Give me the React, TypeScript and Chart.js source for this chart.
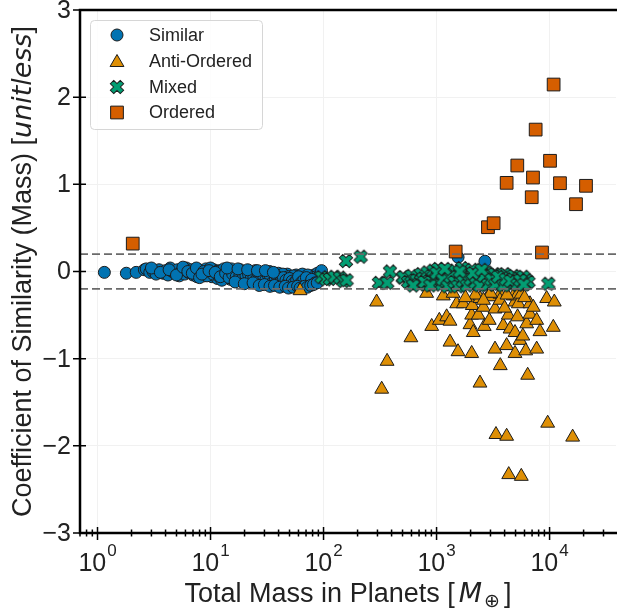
import React, { useEffect, useRef } from 'react';
import { Chart, registerables } from 'chart.js';

Chart.register(...registerables);

// ---- axis settings ----
const X_MIN = 0.7;
const X_MAX = 38700;
const Y_MIN = -3;
const Y_MAX = 3;
const Y_TICKS = [-3, -2, -1, 0, 1, 2, 3];
const X_DECADES = [0, 1, 2, 3, 4];
const THRESHOLDS = [0.2, -0.2];
const SERIES_NAMES = ['Similar', 'Anti-Ordered', 'Mixed', 'Ordered'];
const COLORS = ['#0173B2', '#DE8F05', '#029E73', '#D55E00'];

// ---- data: [total mass, coefficient] ----
const SIMILAR: [number, number][] = [
  [1.15, -0.01], [1.8, -0.02], [2.2, -0.01], [2.6, 0.02], [2.7, 0.03], [2.9, -0.01], [3.1, 0.0], [3.3, -0.03],
  [3.5, 0.02], [3.8, -0.02], [4.0, 0.01], [4.2, -0.04], [4.4, 0.04], [4.6, 0.0], [4.9, -0.02], [5.1, 0.02],
  [5.3, -0.05], [5.6, 0.01], [5.9, -0.03], [6.1, 0.04], [6.4, -0.01], [6.7, 0.02], [7.0, -0.04], [7.3, 0.0],
  [7.6, -0.06], [7.9, 0.02], [8.2, -0.02], [8.5, 0.01], [8.8, -0.05], [9.1, 0.03], [9.5, -0.03], [9.9, 0.0],
  [10.3, -0.06], [10.7, 0.02], [11.1, -0.02], [11.5, -0.08], [12.0, 0.01], [12.4, -0.04], [12.9, -0.01], [13.4, -0.07],
  [13.9, 0.02], [14.4, -0.03], [15.0, -0.09], [15.5, 0.0], [16.1, -0.05], [16.7, -0.02], [17.3, -0.1], [18.0, 0.01],
  [18.6, -0.06], [19.3, -0.03], [20.0, -0.11], [20.8, 0.0], [21.5, -0.07], [22.3, -0.02], [23.1, -0.09], [24.0, -0.04],
  [24.9, 0.01], [25.8, -0.12], [26.8, -0.05], [27.8, -0.01], [28.8, -0.08], [29.9, -0.03], [31.0, -0.13], [32.1, -0.06],
  [33.3, 0.0], [34.5, -0.1], [35.8, -0.04], [37.1, -0.14], [38.5, -0.07], [39.9, -0.02], [41.4, -0.11], [42.9, -0.05],
  [44.5, -0.15], [46.1, -0.08], [47.8, -0.03], [49.6, -0.12], [51.4, -0.06], [53.3, -0.16], [55.3, -0.09], [57.3, -0.04],
  [59.4, -0.13], [61.6, -0.07], [63.9, -0.11], [66.2, -0.05], [68.7, -0.14], [71.2, -0.08], [73.8, -0.12], [76.5, -0.06],
  [79.3, -0.1], [82.2, -0.04], [85.2, -0.08], [88.4, -0.02],
  [3.0, 0.04], [3.6, -0.01], [4.3, 0.02], [5.0, -0.04], [5.7, 0.05], [6.3, 0.0], [6.9, -0.02], [7.5, 0.04],
  [8.0, -0.07], [8.7, 0.0], [9.3, -0.05], [10.0, 0.04], [10.5, -0.03], [11.3, 0.0], [11.8, -0.05], [12.6, -0.1],
  [13.1, 0.03], [13.7, -0.04], [14.2, -0.01], [14.8, -0.06], [15.3, 0.03], [15.8, -0.08], [16.4, -0.01], [17.0, -0.04],
  [17.7, -0.07], [18.3, 0.02], [19.0, -0.09], [19.7, -0.04], [20.4, -0.01], [21.1, -0.06], [21.9, -0.12], [22.7, -0.03],
  [23.5, -0.06], [24.4, -0.1], [25.3, -0.03], [26.3, -0.08], [27.3, -0.13], [28.3, -0.04], [29.3, -0.1], [30.4, -0.07],
  [31.5, -0.02], [32.7, -0.09], [33.9, -0.14], [35.1, -0.07], [36.4, -0.11], [37.8, -0.04], [39.2, -0.09], [40.6, -0.15],
  [42.1, -0.08], [43.7, -0.03], [45.3, -0.12], [47.0, -0.16], [48.7, -0.06], [50.5, -0.1], [52.3, -0.14], [54.3, -0.05],
  [56.3, -0.12], [58.4, -0.08], [60.5, -0.15], [62.7, -0.1], [65.0, -0.03], [67.4, -0.09], [69.9, -0.12], [72.5, -0.04],
  [75.1, -0.1], [77.9, -0.13], [80.7, -0.07], [83.7, -0.11], [86.8, -0.06], [90.0, -0.09], [92.0, -0.05], [96.0, 0.01],
  [8.4, -0.03], [9.7, 0.01], [11.0, -0.01], [12.2, -0.06], [13.6, -0.02], [14.6, -0.07], [15.7, -0.03], [16.9, -0.06],
  [18.2, -0.04], [19.5, -0.07], [20.6, -0.05], [21.7, -0.03], [22.9, -0.08], [24.2, -0.06], [25.5, -0.09], [26.6, -0.02],
  [28.0, -0.06], [29.5, -0.05], [30.8, -0.1], [32.4, -0.04], [34.0, -0.07], [35.6, -0.12], [37.4, -0.09], [39.0, -0.06],
  [40.9, -0.13], [42.6, -0.1], [44.2, -0.07], [46.5, -0.1], [48.3, -0.13], [50.1, -0.08], [52.8, -0.11], [55.0, -0.13],
  [57.8, -0.1], [60.1, -0.06], [63.2, -0.13], [66.8, -0.1], [70.5, -0.07], [74.6, -0.15], [78.6, -0.09], [84.5, -0.13],
  [16.5, -0.12], [19.9, -0.14], [23.8, -0.13], [27.0, -0.16], [30.0, -0.15], [33.6, -0.17], [36.8, -0.16], [41.0, -0.18],
  [45.8, -0.17], [49.0, -0.19], [53.9, -0.18], [58.9, -0.17], [62.0, -0.19], [67.9, -0.17], [72.0, -0.18], [77.0, -0.16],
  [81.5, -0.15], [88.0, -0.13], [14.0, 0.04], [17.5, 0.03], [21.3, 0.02], [26.0, 0.01], [30.6, 0.01], [36.0, -0.01],
  [1550, 0.164], [2680, 0.118],
];

const ANTI_ORDERED: [number, number][] = [
  [62, -0.22], [295, -0.35], [365, -1.03], [327, -1.35], [593, -0.76], [817, -0.25], [906, -0.63], [1058, -0.56],
  [1147, -0.28], [1228, -0.52], [1315, -0.57], [1315, -0.81], [1506, -0.37], [1548, -0.92], [1722, -0.37], [1976, -0.61],
  [2045, -0.94], [2045, -0.5], [2071, -0.39], [2113, -0.7], [2340, -0.5], [2422, -0.31], [2422, -1.28], [2594, -0.41],
  [2642, -0.63], [2870, -0.28], [2925, -0.56], [2972, -0.29], [3290, -0.43], [3290, -0.89], [3355, -1.87], [3640, -0.26],
  [3640, -0.33], [3663, -1.08], [3890, -0.62], [4170, -0.85], [4170, -1.89], [4313, -0.5], [4350, -2.33], [4470, -0.66],
  [4776, -0.28], [4944, -0.35], [4944, -0.7], [4944, -0.94], [5120, -0.28], [5210, -0.52], [5290, -0.37], [5470, -0.79],
  [5620, -2.35], [5800, -0.74], [6150, -0.91], [6270, -0.6], [6400, -1.19], [6710, -0.37], [6710, -0.49], [7180, -0.41],
  [7690, -0.56], [7690, -0.89], [8220, -0.69], [9420, -0.31], [9620, -1.74], [10790, -0.64], [11010, -0.35], [16000, -1.9],
  [1400, -0.25], [2200, -0.27], [3000, -0.25], [4200, -0.27], [5600, -0.26], [2600, -0.33], [1800, -0.3], [4000, -0.42],
  [6000, -0.3],
];

const MIXED: [number, number][] = [
  [96, -0.065], [105, -0.09], [114, -0.085], [125, -0.06], [140, -0.07], [150, -0.11], [160, -0.1], [158, 0.12],
  [213, 0.17], [309, -0.13], [366, -0.13], [387, 0.0], [502, -0.07], [508, -0.065],
  [560, -0.12], [600, -0.05], [640, -0.1], [667, -0.1], [700, -0.14], [730, -0.03], [760, -0.08], [800, -0.15],
  [830, -0.01], [860, -0.11], [900, -0.05], [935, 0.01], [950, -0.13], [990, -0.08], [1030, 0.03], [1072, -0.085],
  [1100, -0.15], [1150, -0.04], [1200, -0.11], [1260, 0.0], [1300, -0.07], [1350, -0.14], [1400, -0.03], [1455, 0.01],
  [1500, -0.1], [1560, -0.05], [1620, -0.14], [1680, 0.04], [1750, -0.08], [1820, -0.02], [1900, -0.12], [1980, -0.06],
  [2060, 0.02], [2150, -0.1], [2240, -0.04], [2330, -0.14], [2430, -0.07], [2530, -0.01], [2640, -0.11], [2773, -0.01],
  [2900, -0.07], [2970, -0.045], [3100, -0.12], [3250, -0.03], [3400, -0.09], [3550, -0.14], [3650, -0.05], [3800, -0.1],
  [4000, -0.03], [4200, -0.12], [4400, -0.07], [4600, -0.15], [4800, -0.05], [5050, -0.11], [5300, -0.08], [5600, -0.13],
  [5850, -0.06], [6070, -0.14], [6270, -0.1], [6500, -0.12], [9750, -0.14],
  [620, -0.16], [780, -0.12], [880, -0.16], [1000, -0.02], [1130, -0.09], [1250, -0.17], [1330, -0.06], [1440, -0.12],
  [1540, -0.17], [1700, -0.11], [1850, -0.16], [2000, -0.09], [2200, -0.13], [2400, -0.16], [2600, -0.05], [2850, -0.15],
  [3050, -0.09], [3300, -0.15], [3500, -0.06], [3900, -0.16], [4100, -0.09], [4500, -0.11], [5200, -0.15], [5500, -0.1],
  [5900, -0.15], [1180, 0.03], [1600, 0.0], [2100, -0.02], [2500, 0.02],
];

const ORDERED: [number, number][] = [
  [2.05, 0.32], [1476, 0.229], [2850, 0.508], [3200, 0.554], [4170, 1.017], [5180, 1.216], [6950, 0.852], [7130, 1.078],
  [7530, 1.628], [8570, 0.218], [10090, 1.27], [10860, 2.145], [12360, 1.013], [17130, 0.772], [21000, 0.983],
];

const FONT = "'Liberation Sans', Arial, sans-serif";
const MATH_FONT = "'DejaVu Sans', sans-serif";
const TEXT_COLOR = '#222';
const EDGE = '#1c1c1c';

function makeXMarker(fill: string, stroke: string) {
  const c = document.createElement('canvas');
  c.width = 18;
  c.height = 18;
  const g = c.getContext('2d')!;
  const L = 7.0;
  const a = 2.4;
  const pts = [[a, L], [a, a], [L, a], [L, -a], [a, -a], [a, -L], [-a, -L], [-a, -a], [-L, -a], [-L, a], [-a, a], [-a, L]];
  g.translate(9, 9);
  g.rotate(Math.PI / 4);
  g.beginPath();
  pts.forEach(([px, py], i) => (i ? g.lineTo(px, py) : g.moveTo(px, py)));
  g.closePath();
  g.fillStyle = fill;
  g.fill();
  g.lineWidth = 1;
  g.strokeStyle = stroke;
  g.stroke();
  return c;
}

function toPoints(arr: [number, number][]) {
  return arr.map(([x, y]) => ({ x, y }));
}

const R_CIRCLE = 6;
const R_TRI = 8;
const R_RECT = 9;

export default function App() {
  const ref = useRef<HTMLCanvasElement | null>(null);

  useEffect(() => {
    const canvas = ref.current;
    if (!canvas) return;
    const xMarker = makeXMarker(COLORS[2], EDGE);

    const drawMarker = (ctx: CanvasRenderingContext2D, kind: number, cx: number, cy: number) => {
      ctx.save();
      ctx.lineWidth = 1;
      ctx.strokeStyle = EDGE;
      ctx.fillStyle = COLORS[kind];
      if (kind === 0) {
        ctx.beginPath();
        ctx.arc(cx, cy, R_CIRCLE, 0, Math.PI * 2);
        ctx.fill();
        ctx.stroke();
      } else if (kind === 1) {
        const r = R_TRI;
        ctx.beginPath();
        ctx.moveTo(cx, cy - r);
        ctx.lineTo(cx + Math.sin((2 * Math.PI) / 3) * r, cy - Math.cos((2 * Math.PI) / 3) * r);
        ctx.lineTo(cx + Math.sin((4 * Math.PI) / 3) * r, cy - Math.cos((4 * Math.PI) / 3) * r);
        ctx.closePath();
        ctx.fill();
        ctx.stroke();
      } else if (kind === 2) {
        ctx.drawImage(xMarker, cx - 9, cy - 9);
      } else {
        const s = Math.SQRT1_2 * R_RECT;
        ctx.beginPath();
        ctx.rect(cx - s, cy - s, 2 * s, 2 * s);
        ctx.fill();
        ctx.stroke();
      }
      ctx.restore();
    };

    const decorations = {
      id: 'decorations',
      afterDraw(chart: any) {
        const { ctx, chartArea: a, scales } = chart;
        const xs = scales.x;
        const ys = scales.y;
        ctx.save();
        // spines
        ctx.strokeStyle = '#000';
        ctx.lineWidth = 2.5;
        ctx.beginPath();
        ctx.moveTo(a.left, a.top);
        ctx.lineTo(a.left, a.bottom);
        ctx.moveTo(a.left - 1.25, a.bottom);
        ctx.lineTo(chart.width, a.bottom);
        ctx.moveTo(a.left - 1.25, a.top);
        ctx.lineTo(chart.width, a.top);
        ctx.stroke();

        // x ticks
        ctx.lineWidth = 1.5;
        ctx.beginPath();
        for (let e = -1; e <= 4; e++) {
          for (let m = 1; m <= 9; m++) {
            const v = m * Math.pow(10, e);
            if (v < X_MIN || v > X_MAX) continue;
            const px = xs.getPixelForValue(v);
            if (m === 1) {
              ctx.moveTo(px, a.bottom - 6);
              ctx.lineTo(px, a.bottom + 7);
            } else {
              ctx.moveTo(px, a.bottom - 3.5);
              ctx.lineTo(px, a.bottom + 3.5);
            }
          }
        }
        // y ticks
        Y_TICKS.forEach((v) => {
          const py = ys.getPixelForValue(v);
          ctx.moveTo(a.left - 7, py);
          ctx.lineTo(a.left + 6, py);
        });
        ctx.stroke();

        // y tick labels
        ctx.fillStyle = TEXT_COLOR;
        ctx.font = `25px ${FONT}`;
        ctx.textAlign = 'right';
        ctx.textBaseline = 'middle';
        Y_TICKS.forEach((v) => {
          const py = ys.getPixelForValue(v);
          ctx.fillText(v < 0 ? '\u2212' + Math.abs(v) : String(v), a.left - 9, py + 1);
        });

        // x tick labels 10^n
        ctx.textBaseline = 'alphabetic';
        ctx.textAlign = 'left';
        X_DECADES.forEach((d) => {
          const px = xs.getPixelForValue(Math.pow(10, d));
          ctx.font = `25px ${FONT}`;
          const w1 = ctx.measureText('10').width;
          ctx.font = `17px ${FONT}`;
          const w2 = ctx.measureText(String(d)).width;
          const x0 = px - (w1 + w2 + 1) / 2;
          ctx.font = `25px ${FONT}`;
          ctx.fillText('10', x0, 571);
          ctx.font = `17px ${FONT}`;
          ctx.fillText(String(d), x0 + w1 + 1, 556);
        });

        // x axis title
        const xParts = [
          { t: 'Total Mass in Planets [', f: `27px ${FONT}`, dy: 0, pad: 0 },
          { t: 'M', f: `italic 27px ${MATH_FONT}`, dy: 0, pad: 4 },
          { t: '\u2295', f: `19px ${MATH_FONT}`, dy: 5, pad: 2 },
          { t: ']', f: `27px ${FONT}`, dy: 0, pad: 4 },
        ];
        let total = 0;
        xParts.forEach((p) => {
          ctx.font = p.f;
          total += ctx.measureText(p.t).width + p.pad;
        });
        let cx = (a.left + a.right) / 2 - total / 2;
        xParts.forEach((p) => {
          ctx.font = p.f;
          cx += p.pad;
          ctx.fillText(p.t, cx, 602 + p.dy);
          cx += ctx.measureText(p.t).width;
        });

        // y axis title (rotated)
        ctx.save();
        ctx.translate(31, (a.top + a.bottom) / 2);
        ctx.rotate(-Math.PI / 2);
        const yParts = [
          { t: 'Coefficient of Similarity (Mass) [', f: `27px ${FONT}` },
          { t: 'unitless', f: `italic 27px ${MATH_FONT}` },
          { t: ']', f: `27px ${FONT}` },
        ];
        let yt = 0;
        yParts.forEach((p) => {
          ctx.font = p.f;
          yt += ctx.measureText(p.t).width;
        });
        let yx = -yt / 2;
        yParts.forEach((p) => {
          ctx.font = p.f;
          ctx.fillText(p.t, yx, 0);
          yx += ctx.measureText(p.t).width;
        });
        ctx.restore();

        // legend
        const lx = 90;
        const ly = 20;
        const lw = 172;
        const lh = 109;
        ctx.beginPath();
        ctx.roundRect(lx + 0.5, ly + 0.5, lw, lh, 4);
        ctx.fillStyle = 'rgba(255,255,255,0.85)';
        ctx.fill();
        ctx.strokeStyle = '#d6d6d6';
        ctx.lineWidth = 1;
        ctx.stroke();
        const rows = [35, 61, 87, 112.5];
        ctx.font = `18px ${FONT}`;
        ctx.textBaseline = 'middle';
        ctx.textAlign = 'left';
        SERIES_NAMES.forEach((name, i) => {
          drawMarker(ctx, i, 117, rows[i] + (i === 1 ? 1.5 : 0));
          ctx.fillStyle = TEXT_COLOR;
          ctx.fillText(name, 149, rows[i] + 1);
        });
        ctx.restore();
      },
    };

    const gridColor = '#f1f1f1';
    const chart = new Chart(canvas, {
      type: 'scatter',
      data: {
        datasets: [
          ...THRESHOLDS.map((t) => ({
            label: 'threshold ' + t,
            data: [{ x: X_MIN, y: t }, { x: X_MAX, y: t }],
            showLine: true,
            borderColor: '#6a6a6a',
            borderWidth: 1.7,
            borderDash: [8, 4],
            pointRadius: 0,
            order: 0,
          })),
          {
            label: SERIES_NAMES[3],
            data: toPoints(ORDERED),
            pointStyle: 'rect',
            pointRadius: R_RECT,
            backgroundColor: COLORS[3],
            borderColor: EDGE,
            borderWidth: 1,
            order: 1,
          },
          {
            label: SERIES_NAMES[2],
            data: toPoints(MIXED),
            pointStyle: xMarker,
            pointRadius: 7,
            backgroundColor: COLORS[2],
            borderColor: EDGE,
            order: 2,
          },
          {
            label: SERIES_NAMES[1],
            data: toPoints(ANTI_ORDERED),
            pointStyle: 'triangle',
            pointRadius: R_TRI,
            backgroundColor: COLORS[1],
            borderColor: EDGE,
            borderWidth: 1,
            order: 3,
          },
          {
            label: SERIES_NAMES[0],
            data: toPoints(SIMILAR),
            pointStyle: 'circle',
            pointRadius: R_CIRCLE,
            backgroundColor: COLORS[0],
            borderColor: EDGE,
            borderWidth: 1,
            order: 4,
          },
        ] as any,
      },
      options: {
        responsive: false,
        animation: false,
        events: [],
        layout: { autoPadding: false, padding: { top: 10, right: 1, left: 0, bottom: 0 } },
        plugins: { legend: { display: false }, tooltip: { enabled: false } },
        scales: {
          x: {
            type: 'logarithmic',
            min: X_MIN,
            max: X_MAX,
            bounds: 'data',
            ticks: { display: false },
            border: { display: false },
            grid: {
              drawTicks: false,
              lineWidth: 1,
              color: (c: any) => {
                const v = c.tick ? c.tick.value : 0;
                const l = Math.log10(v);
                return Math.abs(l - Math.round(l)) < 1e-6 ? gridColor : 'rgba(0,0,0,0)';
              },
            },
            afterFit: (s: any) => {
              s.height = 77;
            },
          },
          y: {
            type: 'linear',
            min: Y_MIN,
            max: Y_MAX,
            ticks: { display: false, stepSize: 1 },
            border: { display: false },
            grid: { drawTicks: false, color: gridColor, lineWidth: 1 },
            afterFit: (s: any) => {
              s.width = 80;
            },
          },
        },
      } as any,
      plugins: [decorations],
    });
    return () => chart.destroy();
  }, []);

  return (
    <div style={{ position: 'fixed', left: 0, top: 0, width: 617, height: 610, background: '#fff' }}>
      <canvas ref={ref} width={617} height={610} style={{ display: 'block' }} />
    </div>
  );
}
